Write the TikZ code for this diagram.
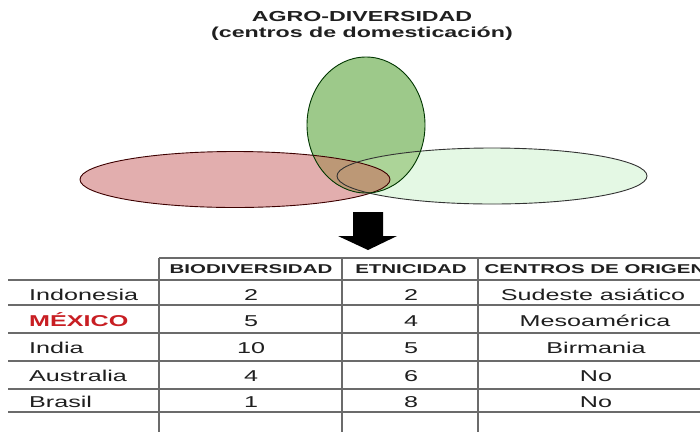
\documentclass[tikz,border=0pt]{standalone}
\usepackage{fontspec}
\setmainfont[FakeStretch=1.6]{Liberation Sans}
\begin{document}
\begin{tikzpicture}[x=1pt,y=-1pt,
  txt/.style={inner sep=0pt, text=black!88},
  body/.style={txt, font=\fontsize{15.7}{18}\selectfont},
  head/.style={txt, font=\bfseries\fontsize{12.8}{15}\selectfont},
  ttl/.style={txt, font=\bfseries\fontsize{14.5}{17}\selectfont},
  grid/.style={draw=black!58, line width=1.2pt},
  outl/.style={line width=0.9pt}]
\definecolor{redfill}{RGB}{226,174,174}
\definecolor{lgfill}{RGB}{228,248,228}
\definecolor{gfill}{RGB}{157,201,138}
\definecolor{tan}{RGB}{188,152,118}
\definecolor{lgg}{RGB}{172,212,152}
\definecolor{mexred}{RGB}{200,30,35}
\useasboundingbox (0,0) rectangle (700,432);
\fill[white] (0,0) rectangle (700,432);
\def\redE{(235,179.5) ellipse [x radius=155, y radius=28]}
\def\lgE{(492,176) ellipse [x radius=155, y radius=28]}
\def\grE{(366,125) ellipse [x radius=59, y radius=68]}
% fills
\fill[redfill] \redE;
\fill[lgfill] \lgE;
\fill[gfill] \grE;
\begin{scope}
  \clip \grE;
  \fill[lgg] \lgE;
\end{scope}
\begin{scope}
  \clip \grE;
  \fill[tan] \redE;
\end{scope}
% outlines
\draw[outl, draw=black!70!red!80!black] \redE;
\draw[outl, draw=black!80] \lgE;
\draw[outl, draw=black!70!green!70!black] \grE;
% title
\node[ttl, anchor=base] (t1) at (362,21.5) {AGRO-DIVERSIDAD};
\node[ttl, anchor=base] (t2) at (362,37.5) {(centros de domesticación)};
% arrow
\fill[black] (353,212) -- (383,212) -- (383,236) -- (397,236) -- (368,250) -- (338,236) -- (353,236) -- cycle;
% table grid
\draw[grid] (159,258) -- (700,258);
\foreach \yy in {280,305,333,361,389,412} \draw[grid] (8,\yy) -- (700,\yy);
\foreach \xx in {159,342,478} \draw[grid] (\xx,258) -- (\xx,432);
% header
\node[head, anchor=base] (h1) at (251,273.5) {BIODIVERSIDAD};
\node[head, anchor=base] (h2) at (411,273.5) {ETNICIDAD};
\node[head, anchor=base] (h3) at (595,273.5) {CENTROS DE ORIGEN};
% rows
\node[body, anchor=base west] (r1) at (29,300) {Indonesia};
\node[body, anchor=base west, font=\bfseries\fontsize{15.7}{18}\selectfont, text=mexred] (r2) at (29,326) {MÉXICO};
\node[body, anchor=base west] (r3) at (29,353.5) {India};
\node[body, anchor=base west] (r4) at (29,381.5) {Australia};
\node[body, anchor=base west] (r5) at (29,407.5) {Brasil};
\node[body, anchor=base] (b1) at (251,300) {2};
\node[body, anchor=base] (b2) at (251,326) {5};
\node[body, anchor=base] (b3) at (251,353.5) {10};
\node[body, anchor=base] (b4) at (251,381.5) {4};
\node[body, anchor=base] (b5) at (251,407.5) {1};
\node[body, anchor=base] (e1) at (411,300) {2};
\node[body, anchor=base] (e2) at (411,326) {4};
\node[body, anchor=base] (e3) at (411,353.5) {5};
\node[body, anchor=base] (e4) at (411,381.5) {6};
\node[body, anchor=base] (e5) at (411,407.5) {8};
\node[body, anchor=base] (c1) at (593,300) {Sudeste asiático};
\node[body, anchor=base] (c2) at (595,326) {Mesoamérica};
\node[body, anchor=base] (c3) at (596,353.5) {Birmania};
\node[body, anchor=base] (c4) at (596,381.5) {No};
\node[body, anchor=base] (c5) at (596,407.5) {No};
\end{tikzpicture}
\end{document}
